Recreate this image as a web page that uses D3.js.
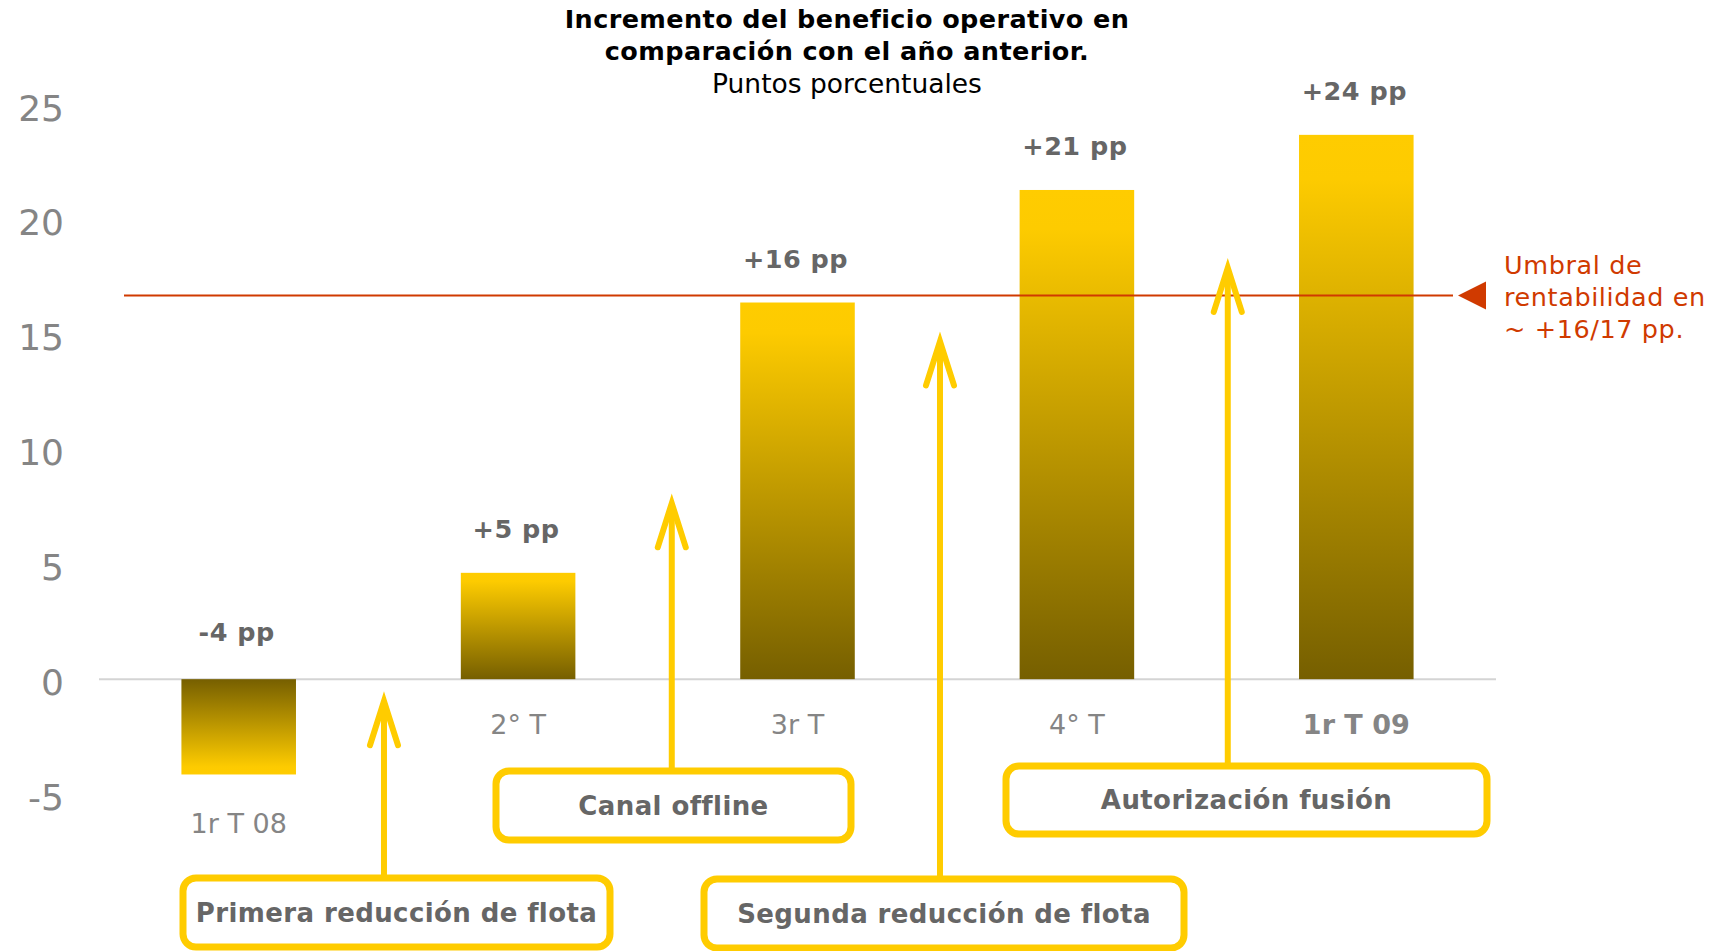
<!DOCTYPE html>
<html>
<head>
<meta charset="utf-8">
<script src="https://cdn.jsdelivr.net/npm/d3@7"></script>
<style>
  html, body { margin: 0; padding: 0; background: #fff; }
  svg { display: block; font-family: "DejaVu Sans", Verdana, sans-serif; }
</style>
</head>
<body>
<div id="chart"></div>
<script>
// datos del gráfico
const categories = ["1r T 08", "2° T", "3r T", "4° T", "1r T 09"];
const values = [-4.15, 4.63, 16.4, 21.3, 23.7];
const valueLabels = ["-4 pp", "+5 pp", "+16 pp", "+21 pp", "+24 pp"];
const boldCategory = ["1r T 09"];
const yTicks = [-5, 0, 5, 10, 15, 20, 25];

const threshold = 16.7;
const thresholdText = ["Umbral de", "rentabilidad en", "~ +16/17 pp."];

// eventos: posición entre barras (índice), punta de la flecha (valor), caja
const eventNames = ["Primera reducción de flota", "Canal offline", "Segunda reducción de flota", "Autorización fusión"];
const eventPos = [0.52, 1.55, 2.51, 3.54];
const eventTip = [-0.57, 8.05, 15.1, 18.3];

(() => {
  const W = 1719, H = 951;
  const svg = d3.select("#chart").append("svg")
    .attr("width", W).attr("height", H);

  const x = d3.scaleBand()
    .domain(categories)
    .range([99, 1496])
    .paddingInner(0.59)
    .paddingOuter(0.295);

  const y = d3.scaleLinear()
    .domain([-5, 25])
    .range([794, 105]);

  // posición continua entre bandas
  const xAt = (i) => x(categories[0]) + x.bandwidth() / 2 + i * x.step();

  const defs = svg.append("defs");
  const gUp = defs.append("linearGradient").attr("id", "gUp")
    .attr("x1", 0).attr("y1", 0).attr("x2", 0).attr("y2", 1);
  gUp.append("stop").attr("offset", 0).attr("stop-color", "#FFCC00");
  gUp.append("stop").attr("offset", 0.08).attr("stop-color", "#FDCB00");
  gUp.append("stop").attr("offset", 1).attr("stop-color", "#765F00");
  const gDown = defs.append("linearGradient").attr("id", "gDown")
    .attr("x1", 0).attr("y1", 1).attr("x2", 0).attr("y2", 0);
  gDown.append("stop").attr("offset", 0).attr("stop-color", "#FFCC00");
  gDown.append("stop").attr("offset", 0.08).attr("stop-color", "#FDCB00");
  gDown.append("stop").attr("offset", 1).attr("stop-color", "#765F00");

  // título
  const title = svg.append("g").attr("text-anchor", "middle");
  title.append("text").attr("x", 847).attr("y", 28)
    .attr("font-size", 25.5).attr("font-weight", "bold").attr("fill", "#000")
    .attr("letter-spacing", 0.4)
    .text("Incremento del beneficio operativo en");
  title.append("text").attr("x", 847).attr("y", 60)
    .attr("font-size", 25.5).attr("font-weight", "bold").attr("fill", "#000")
    .attr("letter-spacing", 0.4)
    .text("comparación con el año anterior.");
  title.append("text").attr("x", 847).attr("y", 93)
    .attr("font-size", 26.5).attr("fill", "#000")
    .text("Puntos porcentuales");

  // eje Y
  const yAxis = svg.append("g")
    .attr("transform", "translate(64,0)")
    .call(d3.axisLeft(y).tickValues(yTicks).tickSize(0).tickPadding(0)
      .tickFormat(d => String(d)));
  yAxis.select(".domain").remove();
  yAxis.selectAll("text")
    .attr("font-family", "DejaVu Sans, Verdana, sans-serif")
    .attr("dy", "0.42em")
    .attr("font-size", 36).attr("fill", "#858585");

  // línea cero
  svg.append("line")
    .attr("x1", 99).attr("x2", 1496)
    .attr("y1", y(0)).attr("y2", y(0))
    .attr("stroke", "#d4d4d4").attr("stroke-width", 2);

  // barras
  svg.append("g").selectAll("rect")
    .data(values)
    .join("rect")
    .attr("x", (d, i) => x(categories[i]))
    .attr("width", x.bandwidth())
    .attr("y", d => y(Math.max(d, 0)))
    .attr("height", d => Math.abs(y(d) - y(0)))
    .attr("fill", d => d >= 0 ? "url(#gUp)" : "url(#gDown)");

  // etiquetas de valor
  svg.append("g").selectAll("text")
    .data(values)
    .join("text")
    .attr("x", (d, i) => x(categories[i]) + x.bandwidth() / 2 - 2)
    .attr("y", d => y(Math.max(d, 0)) - (d < 0 ? 38 : 35))
    .attr("text-anchor", "middle")
    .attr("font-size", 25.5).attr("font-weight", "bold").attr("fill", "#666")
    .attr("letter-spacing", 0.5)
    .text((d, i) => valueLabels[i]);

  // etiquetas de categoría
  svg.append("g").selectAll("text")
    .data(values)
    .join("text")
    .attr("x", (d, i) => x(categories[i]) + x.bandwidth() / 2)
    .attr("y", d => y(Math.min(d, 0)) + (d < 0 ? 59 : 55))
    .attr("text-anchor", "middle")
    .attr("font-size", 27)
    .attr("font-weight", (d, i) => boldCategory.includes(categories[i]) ? "bold" : "normal")
    .attr("fill", "#858585")
    .text((d, i) => categories[i]);

  // umbral de rentabilidad
  const thY = y(threshold);
  svg.append("line")
    .attr("x1", 124).attr("x2", 1453)
    .attr("y1", thY).attr("y2", thY)
    .attr("stroke", "#D03A00").attr("stroke-width", 2);
  svg.append("path")
    .attr("d", `M1458,${thY} L1486,${thY - 14} L1486,${thY + 14} Z`)
    .attr("fill", "#D03A00");
  svg.append("g").selectAll("text")
    .data(thresholdText)
    .join("text")
    .attr("x", 1504)
    .attr("y", (d, i) => thY - 22 + i * 32)
    .attr("font-size", 25.5).attr("fill", "#D03A00")
    .attr("letter-spacing", 0.6)
    .text(d => d);

  // cajas de eventos
  const boxes = [
    { x: 183, y: 878, w: 427, h: 69 },
    { x: 496, y: 771, w: 355, h: 69 },
    { x: 704, y: 879, w: 480, h: 69 },
    { x: 1006, y: 766, w: 481, h: 68 }
  ];
  const yellow = "#FFCC00";

  const arrows = svg.append("g")
    .attr("stroke", yellow).attr("fill", "none")
    .attr("stroke-width", 6).attr("stroke-linecap", "round");
  eventPos.forEach((p, i) => {
    const ax = xAt(p);
    const tip = y(eventTip[i]) + 9; // compensar el inglete
    arrows.append("line")
      .attr("x1", ax).attr("x2", ax)
      .attr("y1", boxes[i].y).attr("y2", tip + 6)
      .attr("stroke-linecap", "butt");
    arrows.append("path")
      .attr("d", `M${ax - 14},${tip + 44} L${ax},${tip} L${ax + 14},${tip + 44}`)
      .attr("stroke-linejoin", "miter");
  });

  const bx = svg.append("g");
  eventNames.forEach((name, i) => {
    const b = boxes[i];
    bx.append("rect")
      .attr("x", b.x).attr("y", b.y).attr("width", b.w).attr("height", b.h)
      .attr("rx", 13)
      .attr("fill", "#fff").attr("stroke", yellow).attr("stroke-width", 7);
    bx.append("text")
      .attr("x", b.x + b.w / 2).attr("y", b.y + b.h / 2 + 9)
      .attr("text-anchor", "middle")
      .attr("font-size", 26).attr("font-weight", "bold").attr("fill", "#666")
      .attr("letter-spacing", 0.4)
      .text(name);
  });
})();
</script>
</body>
</html>
